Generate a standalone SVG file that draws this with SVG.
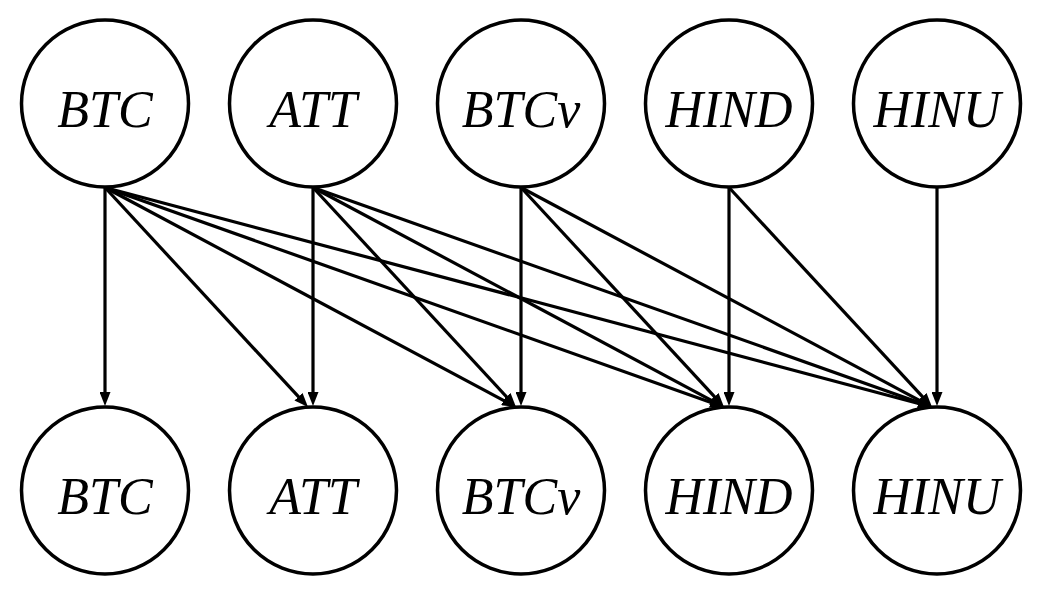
<svg xmlns="http://www.w3.org/2000/svg" width="1038" height="604" viewBox="0 0 1038 604">
<style>
.n circle{fill:#fff;stroke:#000;stroke-width:3.5}
.n text{font-family:"Liberation Serif","Times New Roman",serif;font-style:italic;font-size:52px;text-anchor:middle;fill:#000}
.e line{stroke:#000;stroke-width:3.2;fill:none;marker-end:url(#ah)}
</style>
<defs>
<marker id="ah" markerUnits="userSpaceOnUse" markerWidth="14" markerHeight="11" refX="4" refY="5.5" orient="auto" viewBox="0 0 14 11">
<path d="M0,0 L14,5.5 L0,11 z" fill="#000"/>
</marker>
</defs>
<rect width="1038" height="604" fill="#fff"/>
<g id="edges" class="e">
<line x1="105" y1="187.5" x2="105" y2="396"/>
<line x1="105" y1="187.5" x2="301.21" y2="399.66"/>
<line x1="105" y1="187.5" x2="507.18" y2="402.29"/>
<line x1="105" y1="187.5" x2="714.58" y2="403.66"/>
<line x1="105" y1="187.5" x2="922.33" y2="404.43"/>
<line x1="313" y1="187.5" x2="313" y2="396"/>
<line x1="313" y1="187.5" x2="509.21" y2="399.66"/>
<line x1="313" y1="187.5" x2="715.18" y2="402.29"/>
<line x1="313" y1="187.5" x2="922.58" y2="403.66"/>
<line x1="521" y1="187.5" x2="521" y2="396"/>
<line x1="521" y1="187.5" x2="717.21" y2="399.66"/>
<line x1="521" y1="187.5" x2="923.18" y2="402.29"/>
<line x1="729" y1="187.5" x2="729" y2="396"/>
<line x1="729" y1="187.5" x2="925.21" y2="399.66"/>
<line x1="937" y1="187.5" x2="937" y2="396"/>
</g>
<g id="t_BTC" class="n"><circle cx="105" cy="103.5" r="83.5"/><text x="105" y="126.5">BTC</text></g>
<g id="t_ATT" class="n"><circle cx="313" cy="103.5" r="83.5"/><text x="313" y="126.5">ATT</text></g>
<g id="t_BTCv" class="n"><circle cx="521" cy="103.5" r="83.5"/><text x="521" y="126.5">BTCv</text></g>
<g id="t_HIND" class="n"><circle cx="729" cy="103.5" r="83.5"/><text x="729" y="126.5">HIND</text></g>
<g id="t_HINU" class="n"><circle cx="937" cy="103.5" r="83.5"/><text x="937" y="126.5">HINU</text></g>
<g id="b_BTC" class="n"><circle cx="105" cy="490.5" r="83.5"/><text x="105" y="513.5">BTC</text></g>
<g id="b_ATT" class="n"><circle cx="313" cy="490.5" r="83.5"/><text x="313" y="513.5">ATT</text></g>
<g id="b_BTCv" class="n"><circle cx="521" cy="490.5" r="83.5"/><text x="521" y="513.5">BTCv</text></g>
<g id="b_HIND" class="n"><circle cx="729" cy="490.5" r="83.5"/><text x="729" y="513.5">HIND</text></g>
<g id="b_HINU" class="n"><circle cx="937" cy="490.5" r="83.5"/><text x="937" y="513.5">HINU</text></g>
</svg>
